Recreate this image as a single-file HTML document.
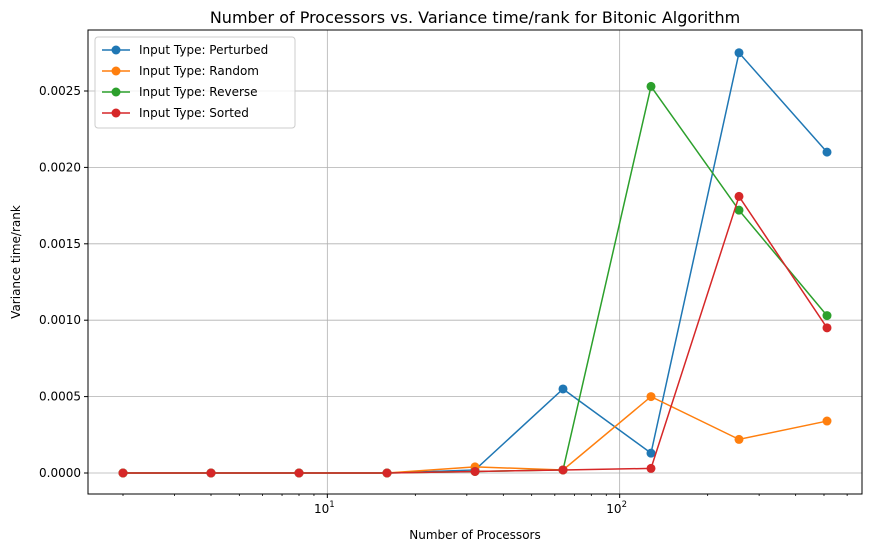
<!DOCTYPE html>
<html><head><meta charset="utf-8"><style>
body{margin:0;background:#fff;font-family:"Liberation Sans","DejaVu Sans",sans-serif}
svg text{font-family:"DejaVu Sans","Liberation Sans",sans-serif}
</style></head><body>
<svg id="c" width="872" height="552" xmlns="http://www.w3.org/2000/svg"></svg>
<script>
const procs=[2,4,8,16,32,64,128,256,512];
const perturbed=[0,0,0,0,0.00002,0.00055,0.00013,0.00275,0.0021];
const random=[0,0,0,0,0.00004,0.00002,0.0005,0.00022,0.00034];
const reverse=[0,0,0,0,0.00001,0.00002,0.00253,0.00172,0.00103];
const sorted=[0,0,0,0,0.00001,0.00002,0.00003,0.00181,0.00095];
const seriesNames=["Input Type: Perturbed","Input Type: Random","Input Type: Reverse","Input Type: Sorted"];
const yTicks=[0,0.0005,0.001,0.0015,0.002,0.0025];
const yTickLabels=["0.0000","0.0005","0.0010","0.0015","0.0020","0.0025"];
const xMajor=[10,100];
const xMajorLabels=["10","10"];

const L=88,R=862,T=30,B=494;
const colors=["#1f77b4","#ff7f0e","#2ca02c","#d62728"];
const X=v=>123+88*Math.log2(v/2);
const Y=v=>473-v*152800;
const svg=document.getElementById('c');const ns="http://www.w3.org/2000/svg";
function el(t,a,p){const e=document.createElementNS(ns,t);for(const k in a)e.setAttribute(k,a[k]);(p||svg).appendChild(e);return e;}
let e;
e=el('text',{x:475,y:23,'text-anchor':'middle','font-size':16,fill:'#000'});e.textContent="Number of Processors vs. Variance time/rank for Bitonic Algorithm";


// grid + y ticks
yTicks.forEach((v,i)=>{const y=Y(v);
e=el('line',{x1:L,x2:R,y1:y,y2:y,stroke:'#b0b0b0','stroke-width':0.8});


el('line',{x1:L-4,x2:L,y1:y,y2:y,stroke:'#000'});
e=el('text',{x:L-7,y:y+4,'text-anchor':'end','font-size':12});e.textContent=yTickLabels[i];

});
xMajor.forEach((v,i)=>{const x=X(v);
e=el('line',{x1:x,x2:x,y1:T,y2:B,stroke:'#b0b0b0','stroke-width':0.8});


el('line',{x1:x,x2:x,y1:B,y2:B+4,stroke:'#000'});
e=el('text',{x:x-3,y:B+19,'text-anchor':'middle','font-size':12});e.textContent=xMajorLabels[i];
el('tspan',{dy:-6,'font-size':8.5},e).textContent=i===0?"1":"2";

});
[2,3,4,5,6,7,8,9,20,30,40,50,60,70,80,90,200,300,400,500,600,700,800].forEach(v=>{const x=X(v);if(x>L&&x<R)el('line',{x1:x,x2:x,y1:B,y2:B+2,stroke:'#000','stroke-width':0.8});});
e=el('rect',{x:L,y:T,width:R-L,height:B-T,fill:'none',stroke:'#000','stroke-width':1});


e=el('text',{x:475,y:539,'text-anchor':'middle','font-size':12});e.textContent="Number of Processors";


e=el('text',{x:20,y:262,'text-anchor':'middle','font-size':12,transform:'rotate(-90 20 262)'});e.textContent="Variance time/rank";


[perturbed,random,reverse,sorted].forEach((s,k)=>{
const g=el('g',{});


el('polyline',{points:s.map((v,i)=>X(procs[i])+','+Y(v)).join(' '),fill:'none',stroke:colors[k],'stroke-width':1.5},g);
s.forEach((v,i)=>{const c=el('circle',{cx:X(procs[i]),cy:Y(v),r:4.5,fill:colors[k]},g);

});});
// legend
const lg=el('g',{});


el('rect',{x:95,y:37,width:200,height:91,rx:3,fill:'#fff','fill-opacity':0.8,stroke:'#ccc'},lg);
seriesNames.forEach((n,k)=>{const y=50+k*21;
const g=el('g',{},lg);


el('line',{x1:102,x2:130,y1:y,y2:y,stroke:colors[k],'stroke-width':1.5},g);
el('circle',{cx:116,cy:y,r:4.5,fill:colors[k]},g);
const t=el('text',{x:139,y:y+4,'font-size':12},g);t.textContent=n;});
</script>
</body></html>
